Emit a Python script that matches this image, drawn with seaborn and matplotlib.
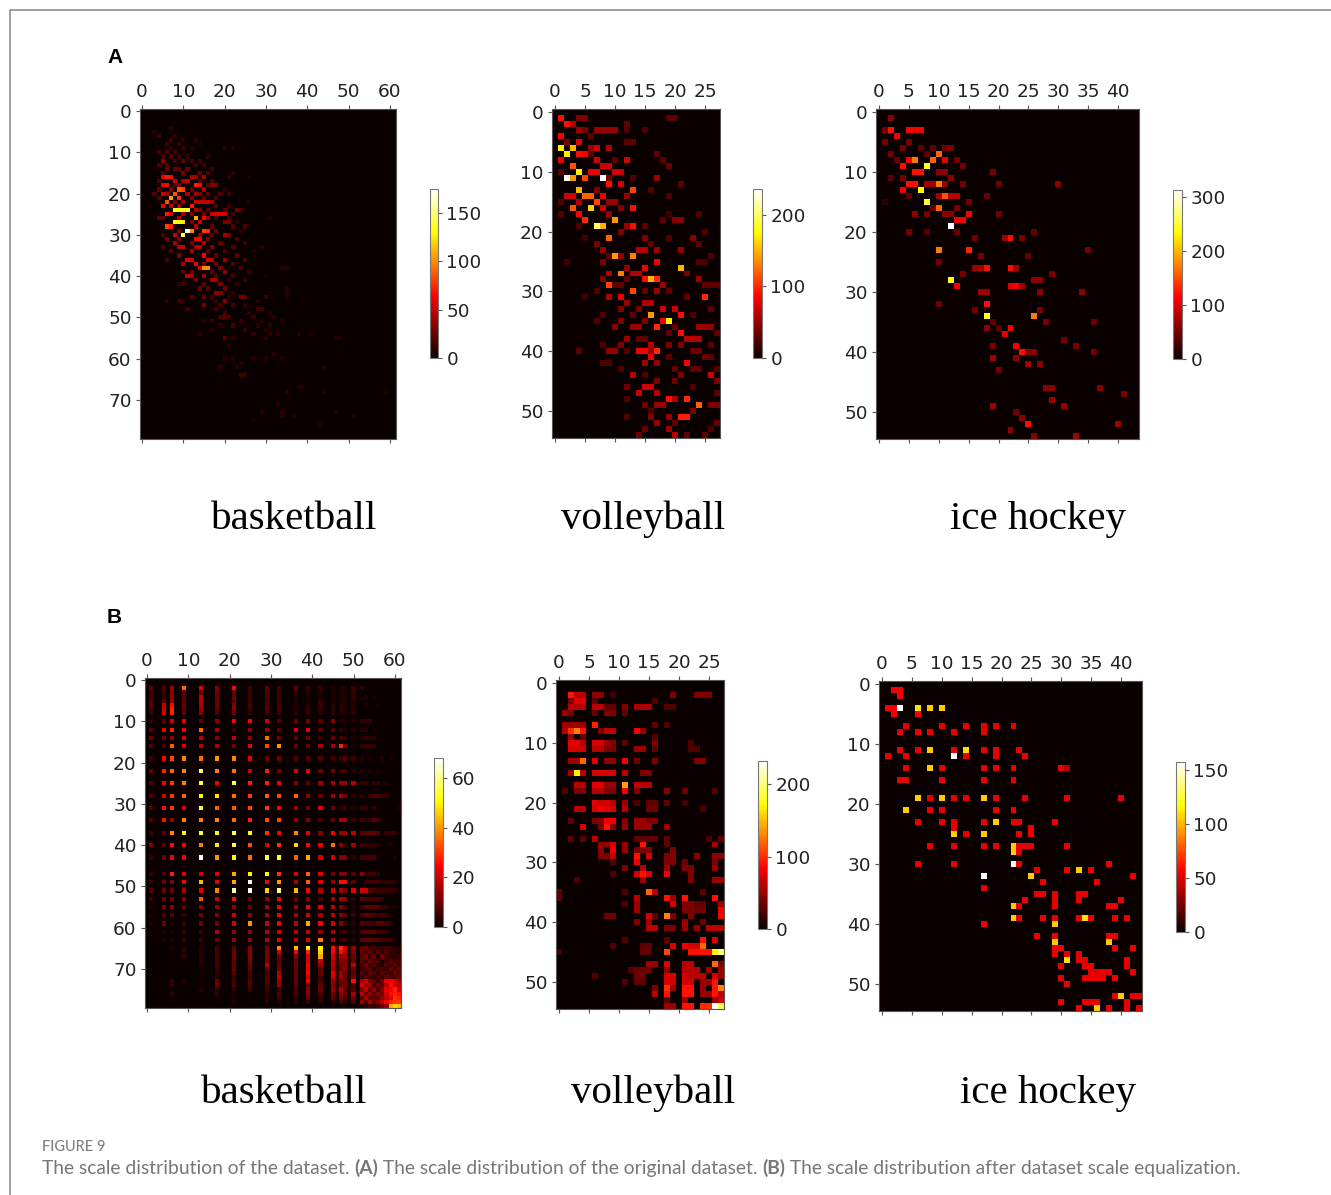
# %%
# scale distribution heatmaps (figure 9)
# --------------------------------
import numpy as np
import matplotlib
matplotlib.use("Agg")
import matplotlib.pyplot as plt
import seaborn as sns

# each line: row, then col,value pairs
bb_a_cells = [
    [4, 7,10], [5, 3,6], [6, 4,14, 8,12], [7, 7,18, 10,10, 13,9], [8, 6,14, 9,14, 14,6],
    [9, 7,14, 10,12, 12,8, 20,8, 22,8], [10, 4,14, 6,18, 8,16],
    [11, 5,18, 7,18, 9,14, 11,12, 16,10], [12, 5,36, 8,18, 10,22, 12,14, 14,16],
    [13, 4,18, 6,22, 13,16, 15,16], [14, 6,26, 8,26, 9,22, 11,26, 17,14],
    [15, 5,18, 10,30, 14,26, 16,18, 22,10], [16, 5,60, 6,70, 7,65, 12,42, 13,38, 15,42, 21,10, 26,7],
    [17, 4,18, 8,50, 10,42, 11,50, 14,22, 17,18],
    [18, 5,60, 6,65, 8,22, 9,30, 13,70, 14,65, 16,18, 17,32, 18,32],
    [19, 4,22, 7,30, 9,85, 10,80, 12,22, 15,42, 20,10],
    [20, 3,18, 5,50, 6,42, 8,85, 11,42, 13,42, 14,32, 16,22, 19,18, 21,14],
    [21, 4,18, 7,105, 9,75, 12,30, 15,22, 18,18],
    [22, 6,85, 8,30, 10,42, 13,48, 14,48, 15,48, 16,48, 17,40, 26,8],
    [23, 5,60, 7,50, 9,42, 12,70, 18,18, 21,14],
    [24, 8,135, 9,135, 10,135, 11,135, 13,42, 14,26, 16,22, 20,22, 23,26, 24,18],
    [25, 6,70, 7,50, 10,42, 12,30, 15,26, 17,50, 18,55, 19,55, 20,50, 22,14],
    [26, 4,22, 5,22, 9,42, 13,110, 15,62, 16,36, 18,18, 21,18, 31,7],
    [27, 8,130, 9,130, 10,125, 12,26, 14,50, 20,30, 21,26, 23,10],
    [28, 6,80, 7,70, 13,45, 17,22, 22,18, 25,18],
    [29, 9,30, 11,175, 12,100, 15,80, 16,75, 18,26, 24,10],
    [30, 5,18, 8,50, 10,145, 14,36, 17,22, 20,42, 21,30],
    [31, 6,30, 9,30, 13,62, 14,62, 16,30, 23,18], [32, 8,42, 12,30, 15,42, 19,22, 25,14],
    [33, 5,18, 9,46, 10,50, 13,42, 14,46, 17,30, 22,18, 29,8], [34, 7,22, 12,42, 16,22, 20,18, 27,8],
    [35, 9,30, 15,62, 18,22, 23,22], [36, 6,18, 11,58, 12,52, 16,52, 17,46, 20,36, 25,18],
    [37, 10,42, 13,62, 15,30, 18,26, 22,18], [38, 14,55, 15,100, 16,100, 19,30, 24,18, 34,9, 35,9],
    [39, 10,20, 12,26, 17,22, 20,36, 26,12], [40, 11,48, 12,42, 15,40, 18,20, 22,16, 30,6],
    [41, 13,30, 17,40, 18,40, 21,12, 25,12], [42, 9,12, 10,16, 15,20, 19,26, 23,12],
    [43, 14,24, 16,20, 20,26, 35,9], [44, 18,34, 19,30, 22,12, 35,7],
    [45, 12,20, 15,24, 17,16, 21,12, 24,28, 25,24, 30,12, 35,7], [46, 6,8, 9,16, 10,12, 18,12, 20,34, 28,7],
    [47, 15,30, 19,16, 22,16, 25,12], [48, 11,16, 18,16, 28,16, 29,16], [49, 20,16, 26,12, 31,9],
    [50, 19,16, 20,20, 21,16, 27,12, 32,9], [51, 15,9, 17,12, 24,12, 29,9, 34,7],
    [52, 19,9, 22,16, 28,9, 31,9], [53, 17,7, 25,11, 30,7],
    [54, 14,9, 27,11, 31,9, 33,9, 38,7, 41,6], [55, 20,20, 22,9, 30,9, 47,6, 48,6],
    [57, 21,9], [59, 32,9], [60, 20,9, 22,7, 27,7, 30,7, 34,6], [61, 24,7],
    [62, 19,9, 23,6, 44,9], [64, 24,14, 25,12], [67, 38,7, 39,7], [68, 35,9, 44,5, 59,5],
    [71, 33,7], [73, 29,9, 34,9, 47,6], [74, 34,7, 37,6, 51,6], [75, 27,5], [76, 43,6],
]

vb_a_cells = [
    [1, 1,90, 4,40, 5,40, 19,30, 20,30], [2, 2,90, 3,60, 12,30], [3, 4,50, 5,40, 7,50, 8,50, 9,50, 10,50, 12,25, 15,25],
    [4, 1,85, 6,30], [5, 2,40, 4,75, 12,30, 13,30], [6, 1,170, 3,150, 6,50, 7,70, 9,60],
    [7, 2,170, 4,90, 5,85, 6,30, 17,30], [8, 1,80, 7,70, 10,30, 12,70, 18,30], [9, 3,115, 8,70, 9,70, 19,35],
    [10, 1,30, 4,170, 6,80, 7,80, 10,70, 11,70], [11, 2,235, 3,140, 5,110, 8,235, 9,40, 13,25, 17,50],
    [12, 9,90, 11,70, 21,30], [13, 4,150, 7,40, 13,110, 16,25], [14, 2,70, 3,70, 5,120, 6,120, 8,80, 12,50, 19,25],
    [15, 1,25, 4,60, 7,110, 9,50, 10,50], [16, 3,115, 6,160, 8,70, 11,40, 13,90],
    [17, 1,25, 4,85, 9,50, 19,20, 24,25], [18, 5,100, 10,140, 18,30, 20,45, 21,45],
    [19, 4,25, 7,200, 8,150, 12,50, 13,90, 15,30], [20, 11,40, 25,25], [21, 5,20, 9,120, 15,40, 19,25, 23,45],
    [22, 7,40, 16,30, 24,30], [23, 8,50, 14,60, 15,60, 17,50, 21,50], [24, 9,30, 10,140, 11,50, 13,130, 26,25],
    [25, 2,20, 8,40, 17,80, 24,25, 25,25], [26, 12,50, 15,80, 21,150], [27, 9,60, 11,130, 13,60, 14,60, 22,40],
    [28, 8,40, 12,30, 15,90, 16,150, 17,100, 24,50], [29, 9,110, 10,30, 11,30, 18,50, 25,30, 26,30, 27,30],
    [30, 7,25, 13,110, 15,30, 17,50, 19,30], [31, 5,20, 9,60, 11,80, 22,30, 25,100], [32, 12,50, 15,60, 16,60],
    [33, 11,40, 14,40, 18,70, 20,70, 26,30], [34, 8,25, 13,30, 16,140, 21,90, 23,25], [35, 7,25, 11,40, 15,40, 18,80, 19,170],
    [36, 10,45, 13,50, 14,50, 17,100, 20,30, 24,50, 25,50, 26,50], [37, 19,30, 21,90, 27,30],
    [38, 12,50, 14,30, 15,30, 22,60, 23,60, 24,60], [39, 8,25, 11,40, 16,60, 19,40, 21,40, 26,30],
    [40, 4,30, 9,50, 10,50, 12,25, 14,80, 15,80, 16,50, 17,100, 23,35, 24,35], [41, 16,80, 19,30, 25,30, 26,30],
    [42, 8,25, 9,25, 15,50, 17,50, 22,85], [43, 11,25, 20,30, 23,30, 24,30, 27,25], [44, 13,60, 15,25, 21,40, 26,70],
    [45, 17,40, 20,35, 27,40], [46, 12,35, 15,70, 16,70, 23,25], [47, 14,70, 17,60, 27,30], [48, 12,25, 19,90, 20,60, 22,100],
    [49, 15,35, 17,50, 18,50, 24,120, 26,40, 27,40], [50, 16,25, 23,40], [51, 12,25, 16,40, 19,50, 21,95, 22,95],
    [52, 17,50, 20,30, 27,35], [53, 15,35, 19,50, 26,25], [54, 14,35, 20,60, 22,30, 25,30],
]

ih_a_cells = [
    [1, 2,60], [3, 1,50, 2,120, 5,110, 6,110, 7,110], [4, 3,110], [5, 1,50, 5,50], [6, 4,50, 7,40, 9,40, 11,50, 12,50],
    [7, 2,50, 8,40, 10,160], [8, 3,40, 5,110, 6,170, 9,160, 11,100, 13,50], [9, 4,120, 8,240, 14,50],
    [10, 6,120, 7,120, 10,60, 11,60, 19,50], [11, 2,40, 4,50, 12,60],
    [12, 5,120, 6,120, 8,70, 9,70, 10,170, 11,60, 14,50, 20,50, 30,60], [13, 4,110, 7,230],
    [14, 5,40, 10,70, 11,150, 12,80, 13,80, 18,45], [15, 1,15, 8,250, 15,50], [16, 9,40, 10,160, 13,50],
    [17, 6,60, 8,50, 11,60, 12,60, 15,110, 20,50], [18, 13,110, 14,110], [19, 12,312],
    [20, 5,50, 8,35, 13,45, 26,45], [21, 16,50, 21,70, 22,120, 24,50], [23, 10,170, 15,130, 35,50],
    [24, 17,50, 25,45], [25, 10,50], [26, 16,70, 17,70, 18,120, 22,120, 23,70], [27, 14,50, 29,50],
    [28, 12,240, 26,60, 27,60], [29, 13,110, 22,100, 23,110, 24,70], [30, 17,70, 18,70, 27,60, 34,60],
    [32, 10,50, 18,120], [33, 16,50, 27,50], [34, 18,240, 26,170], [35, 19,40, 28,50, 36,45],
    [36, 18,60, 20,40, 22,110], [37, 21,100], [38, 31,50], [39, 19,50, 23,110, 33,50],
    [40, 24,120, 25,60, 26,60, 36,50], [41, 19,70, 23,60], [42, 25,70, 27,60], [43, 20,50],
    [46, 28,60, 29,60, 37,60], [47, 41,50], [48, 29,70], [49, 19,70, 31,70], [50, 23,50], [51, 24,60],
    [52, 25,120, 40,70], [53, 22,60], [54, 26,60, 33,70],
]

# basketball B is a regular grid, kept as a table
bb_b_rows = [2, 3, 4, 5, 6, 7, 8, 10, 12, 14, 16, 19, 22, 25, 28, 31, 34, 37, 40, 43, 47, 49, 51, 53, 55, 57, 59, 61, 63]
bb_b_cols = [1, 4, 6, 9, 13, 17, 21, 25, 29, 32, 36, 39, 42, 45, 47, 48, 50]
bb_b_grid = [
    [8, 8, 15, 35, 22, 12, 25, 6, 8, 6, 10, 5, 4, 2, 2, 2, 5],
    [6, 4, 12, 7, 10, 10, 8, 4, 7, 5, 4, 3, 2, 2, 2, 2, 4],
    [6, 5, 14, 8, 18, 10, 10, 5, 6, 6, 2, 2, 2, 2, 2, 2, 4],
    [7, 9, 14, 9, 17, 9, 9, 5, 6, 5, 2, 2, 4, 2, 2, 2, 3],
    [8, 18, 25, 10, 16, 10, 12, 6, 8, 6, 3, 3, 5, 3, 3, 2, 3],
    [6, 20, 28, 8, 14, 8, 12, 5, 8, 6, 3, 4, 4, 3, 3, 2, 3],
    [5, 20, 28, 8, 12, 8, 10, 4, 6, 5, 3, 5, 3, 4, 2, 2, 5],
    [5, 8, 20, 22, 8, 14, 24, 24, 20, 8, 10, 10, 8, 12, 3, 2, 3],
    [8, 22, 28, 24, 36, 16, 6, 14, 14, 8, 22, 22, 8, 8, 4, 2, 3],
    [10, 10, 14, 20, 18, 12, 18, 14, 36, 10, 8, 10, 5, 10, 6, 4, 2],
    [7, 6, 34, 22, 18, 16, 10, 22, 32, 40, 10, 10, 16, 16, 28, 10, 2],
    [6, 25, 32, 38, 36, 40, 38, 22, 10, 10, 8, 8, 7, 6, 4, 8, 6],
    [9, 28, 35, 38, 58, 38, 36, 20, 28, 10, 20, 22, 10, 10, 5, 5, 3],
    [7, 24, 30, 38, 56, 24, 56, 28, 28, 24, 12, 8, 16, 16, 14, 14, 18],
    [8, 20, 30, 34, 50, 48, 36, 30, 34, 32, 34, 14, 10, 16, 16, 10, 3],
    [8, 26, 30, 22, 56, 34, 34, 32, 30, 24, 14, 10, 22, 10, 4, 4, 3],
    [8, 26, 14, 38, 38, 38, 36, 28, 32, 32, 14, 12, 6, 10, 16, 16, 5],
    [4, 8, 38, 50, 54, 52, 54, 50, 30, 24, 38, 22, 12, 24, 14, 14, 18],
    [12, 8, 26, 24, 38, 48, 56, 32, 22, 30, 46, 24, 22, 36, 12, 4, 16],
    [4, 10, 24, 24, 68, 40, 50, 36, 55, 55, 34, 42, 20, 20, 12, 12, 4],
    [4, 6, 28, 22, 20, 22, 42, 50, 50, 30, 20, 34, 22, 10, 12, 12, 8],
    [5, 10, 12, 24, 44, 22, 42, 68, 24, 40, 16, 34, 22, 14, 26, 26, 8],
    [8, 10, 10, 16, 22, 38, 62, 66, 46, 60, 44, 24, 16, 20, 16, 10, 22],
    [6, 10, 10, 14, 34, 20, 26, 10, 14, 24, 10, 12, 6, 16, 16, 14, 4],
    [2, 12, 14, 10, 12, 14, 14, 10, 16, 24, 16, 24, 22, 18, 12, 6, 3],
    [2, 8, 8, 5, 10, 12, 20, 14, 16, 24, 16, 20, 16, 18, 12, 10, 6],
    [2, 10, 2, 5, 10, 10, 20, 40, 20, 24, 18, 42, 24, 20, 12, 4, 3],
    [1, 2, 2, 5, 5, 18, 14, 14, 18, 20, 18, 18, 14, 16, 4, 6, 3],
    [1, 2, 2, 5, 5, 10, 14, 14, 18, 22, 18, 22, 38, 16, 4, 6, 3],
]

# vertical streaks near the bottom
bb_b_streak_rows = list(range(65, 79))
bb_b_streak_cols = [6, 9, 13, 17, 21, 25, 29, 32, 36, 39, 42, 45, 46, 47, 48, 49, 50]
bb_b_streak = [
    [2, 3, 3, 6, 9, 13, 11, 38, 44, 50, 50, 26, 8, 30, 20, 2, 14],
    [1, 3, 3, 6, 10, 13, 11, 20, 24, 28, 46, 24, 6, 26, 16, 2, 12],
    [1, 4, 3, 6, 10, 13, 11, 10, 12, 20, 42, 20, 5, 14, 16, 3, 10],
    [0, 1, 3, 6, 9, 11, 11, 8, 10, 20, 18, 18, 4, 12, 12, 3, 9],
    [0, 0, 2, 6, 9, 9, 18, 9, 10, 24, 14, 18, 5, 10, 12, 3, 18],
    [0, 0, 1, 4, 9, 9, 9, 10, 9, 22, 8, 16, 3, 9, 14, 3, 9],
    [0, 0, 1, 3, 7, 6, 6, 16, 9, 24, 9, 22, 4, 14, 8, 2, 9],
    [0, 0, 1, 3, 4, 6, 7, 18, 9, 20, 6, 20, 5, 16, 9, 3, 10],
    [5, 3, 1, 10, 6, 7, 7, 14, 9, 24, 6, 14, 4, 10, 9, 2, 26],
    [4, 1, 1, 10, 7, 7, 6, 14, 9, 9, 9, 12, 3, 9, 10, 3, 6],
    [1, 0, 3, 4, 2, 4, 4, 4, 6, 14, 10, 14, 4, 16, 8, 3, 7],
    [4, 0, 1, 4, 2, 1, 3, 7, 7, 12, 7, 10, 3, 12, 9, 2, 16],
    [1, 0, 0, 1, 2, 1, 3, 6, 4, 10, 4, 9, 2, 10, 6, 2, 10],
    [0, 0, 0, 0, 2, 1, 3, 2, 2, 4, 3, 4, 1, 6, 4, 1, 7],
]

# dense corner, lower right
bb_b_corner_rows = list(range(65, 80))
bb_b_corner_cols = list(range(52, 62))
bb_b_corner = [
    [8, 9, 6, 7, 4, 5, 6, 5, 3, 2],
    [10, 6, 9, 4, 8, 3, 7, 3, 5, 2],
    [7, 11, 5, 9, 3, 10, 6, 4, 3, 5],
    [9, 4, 10, 6, 7, 3, 5, 8, 4, 6],
    [6, 10, 5, 8, 4, 2, 7, 6, 8, 5],
    [5, 7, 8, 3, 6, 7, 4, 9, 7, 9],
    [8, 4, 9, 7, 3, 8, 7, 5, 10, 6],
    [4, 7, 5, 4, 6, 5, 9, 7, 6, 9],
    [16, 20, 12, 8, 5, 10, 22, 24, 20, 14],
    [22, 14, 16, 6, 10, 8, 18, 26, 20, 18],
    [12, 18, 9, 14, 6, 12, 22, 24, 28, 20],
    [18, 10, 14, 7, 12, 10, 20, 26, 28, 26],
    [8, 16, 9, 10, 8, 14, 18, 22, 30, 28],
    [14, 7, 16, 8, 12, 18, 24, 28, 30, 30],
    [2, 3, 6, 4, 6, 10, 14, 42, 46, 44],
]

# faint part on the right, rows 2..63
bb_b_side_cells = [
    [2, 52,4], [4, 53,3, 55,2], [6, 53,2, 56,2], [10, 52,4, 53,5, 54,4], [12, 52,3, 53,3, 55,2], [14, 52,3, 53,4, 54,3, 55,3],
    [16, 52,4, 53,5, 54,5, 55,4], [19, 52,3, 54,2, 57,3, 59,2], [22, 52,3, 54,2, 56,2], [25, 52,5, 53,4, 55,4, 56,4, 58,2],
    [28, 52,4, 54,4, 55,6, 56,6, 57,5, 58,5], [31, 52,4, 53,5, 55,4, 61,2], [34, 52,6, 53,4, 54,5, 55,8, 56,7],
    [37, 52,7, 53,9, 54,9, 55,9, 56,7, 58,5, 59,5, 60,5], [40, 52,5, 53,5, 54,4, 55,4, 56,3, 59,2], [43, 52,6, 53,6, 54,6, 55,6, 56,2, 60,2],
    [47, 52,12, 53,5, 54,6, 55,6, 56,4], [49, 53,4, 54,6, 55,6, 56,6, 57,4, 58,4, 59,4, 60,3],
    [51, 52,20, 53,20, 54,8, 55,6, 56,5, 57,5, 58,5, 59,5, 60,4], [53, 52,8, 53,6, 54,6, 55,6, 56,6, 57,4],
    [55, 52,5, 53,8, 54,8, 55,8, 56,8, 57,4, 58,4, 60,2], [57, 52,6, 53,9, 54,8, 55,6, 56,5, 57,6, 58,4],
    [59, 52,8, 53,6, 54,6, 55,5, 56,8, 57,8, 58,6, 59,3], [61, 52,6, 53,9, 54,8, 55,8, 56,5, 57,5, 58,4],
    [63, 52,8, 53,9, 54,9, 55,8, 56,8, 57,6, 58,5, 59,5, 60,2],
]

vb_b_cells = [
    [2, 2,90, 3,60, 4,60, 6,45, 7,45, 9,20, 19,40, 23,40, 24,40, 25,40], [3, 2,40, 3,75, 4,75, 6,30, 16,25],
    [4, 2,60, 3,60, 4,60, 6,60, 7,60, 8,30, 9,30, 11,40, 13,55, 14,55, 15,55, 18,25, 19,25],
    [5, 1,50, 2,40, 6,30, 8,40, 9,40, 11,30], [7, 1,50, 2,50, 3,50, 4,50, 6,95, 16,30, 18,25],
    [8, 1,60, 2,100, 3,130, 4,90, 7,40, 8,60, 9,60, 13,80, 14,50], [9, 2,50, 4,30, 16,25],
    [10, 2,75, 3,75, 4,60, 6,70, 7,70, 8,50, 9,40, 11,30, 16,40, 22,25],
    [11, 2,70, 3,70, 4,70, 6,60, 7,60, 8,40, 9,40, 13,50, 14,50, 16,30, 22,25, 23,25],
    [13, 2,50, 3,50, 4,120, 6,75, 8,45, 9,45, 11,80, 13,35, 16,40, 23,40, 24,40],
    [15, 2,50, 3,170, 4,60, 6,70, 7,70, 8,70, 9,70, 11,60, 14,40, 15,40],
    [17, 3,60, 4,60, 6,75, 7,75, 8,50, 9,50, 11,140, 13,60, 14,60, 15,60],
    [18, 1,25, 3,40, 4,40, 6,60, 7,60, 8,40, 9,40, 11,80, 13,40, 18,45, 21,35, 26,25],
    [20, 6,75, 7,65, 8,70, 9,60, 11,50, 13,25, 15,30, 16,30, 18,30, 21,20],
    [21, 3,60, 4,60, 6,70, 7,80, 8,75, 9,70, 11,60, 15,35, 16,35, 24,25],
    [23, 2,30, 6,40, 7,40, 8,80, 9,80, 11,40, 13,50, 14,50, 15,40, 16,40],
    [24, 4,70, 7,40, 8,90, 9,40, 11,50, 13,50, 14,50, 15,50, 18,50],
    [26, 2,30, 4,30, 6,60, 13,30, 14,30, 15,30, 16,30, 18,30, 25,25, 27,30],
    [27, 7,50, 8,50, 9,70, 11,50, 14,90, 18,30, 26,55], [28, 7,45, 9,80, 11,50, 13,40, 14,40, 15,45, 19,40],
    [29, 7,40, 8,40, 9,60, 13,90, 15,70, 18,40, 19,40, 23,45, 26,45, 27,45], [30, 9,25, 13,80, 18,40, 19,40, 21,35, 26,40],
    [31, 11,40, 14,60, 18,50, 21,40, 22,40, 26,50], [32, 9,25, 13,70, 14,90, 15,70, 18,80, 22,40], [33, 3,25, 14,50, 22,40, 26,50, 27,50],
    [35, 0,30, 11,25, 15,120, 16,60, 24,30], [36, 0,30, 13,60, 18,90, 19,50, 21,90, 26,90],
    [37, 11,25, 13,50, 19,70, 21,40, 22,40, 23,30, 24,30, 27,50], [38, 13,50, 21,40, 22,40, 23,35, 24,35, 27,80],
    [39, 8,35, 9,35, 15,70, 16,30, 18,130, 19,40, 22,40, 27,85], [40, 13,40, 15,50, 21,50, 24,35],
    [41, 15,60, 16,60, 18,40, 19,40, 21,50, 23,50, 25,60, 26,60, 27,60], [43, 11,25, 18,30, 24,90, 26,70],
    [44, 9,25, 14,30, 15,30, 19,70, 21,80, 22,70, 23,70, 24,120], [45, 0,20, 14,30, 15,30, 18,110, 22,90, 23,90, 24,90, 25,90, 26,170, 27,200],
    [47, 15,50, 16,50, 18,70, 21,60, 22,60, 26,120, 27,40], [48, 12,25, 13,35, 14,35, 15,35, 18,50, 21,60, 22,60, 23,60, 25,50, 27,50],
    [49, 6,25, 13,35, 14,35, 18,70, 19,70, 21,70, 22,60, 23,60, 24,60, 26,70, 27,50],
    [50, 11,25, 13,30, 14,30, 18,70, 19,70, 21,70, 22,70, 24,50, 25,50, 26,90],
    [51, 16,40, 18,100, 19,50, 21,90, 22,90, 24,50, 26,90, 27,130], [52, 16,60, 18,90, 21,90, 22,90, 24,50, 25,50, 26,90, 27,60],
    [53, 18,30, 21,50, 26,50, 27,70], [54, 18,50, 19,50, 21,90, 22,90, 24,100, 25,100, 26,232, 27,190],
]

# hockey B only has a few levels
ih_b_cells = [
    [1, 2,55, 3,55], [2, 3,55], [4, 1,55, 2,55, 3,157, 6,110, 8,105, 10,105], [5, 2,55, 6,55],
    [7, 4,52, 10,52, 14,52, 17,52, 19,52, 22,52], [8, 3,52, 6,52, 8,52, 12,52, 17,52],
    [11, 3,52, 6,52, 8,105, 12,52, 14,110, 17,52, 19,52, 23,52], [12, 1,52, 4,52, 12,157, 14,52, 19,52, 24,52],
    [14, 4,52, 8,105, 10,52, 17,52, 19,52, 22,52, 30,52, 31,40], [16, 3,52, 4,52, 10,52, 17,52, 22,52],
    [19, 6,105, 8,52, 10,105, 12,52, 14,52, 17,105, 19,52, 24,52, 31,52, 40,52], [21, 4,105, 8,52, 10,52, 19,52, 22,52],
    [23, 6,52, 10,52, 12,52, 17,52, 19,105, 22,52, 23,52, 29,52], [24, 12,52, 25,52], [25, 12,105, 14,52, 17,105, 23,52, 25,52],
    [27, 8,52, 12,52, 17,52, 19,52, 22,105, 23,52, 24,52, 25,52, 31,52], [28, 22,105, 23,52],
    [30, 6,52, 12,52, 22,157, 23,52, 38,52], [31, 26,52, 31,52, 33,105, 35,52], [32, 17,157, 25,105, 42,52], [33, 27,52, 36,52], [34, 17,52],
    [35, 26,52, 27,52, 29,52, 33,52, 34,52], [36, 24,52, 29,52, 33,52, 40,52], [37, 22,105, 23,52, 29,52, 38,52, 39,52],
    [39, 22,105, 23,52, 27,52, 29,52, 33,52, 34,110, 35,52, 39,52, 41,52], [40, 17,52, 29,105], [42, 26,52, 29,52, 38,52, 39,52],
    [43, 29,105, 38,105], [44, 29,52, 30,52, 39,52, 42,52], [45, 29,52, 31,52, 33,52], [46, 31,110, 33,52, 34,52, 41,52],
    [47, 30,52, 34,52, 35,52, 41,52], [48, 35,52, 36,52, 37,52, 38,52, 42,52], [49, 30,52, 34,52, 35,52, 36,52, 37,52, 39,52],
    [50, 31,52], [52, 39,52, 40,105, 42,52, 43,52], [53, 30,52, 34,52, 35,52, 36,52, 41,52], [54, 33,52, 36,105, 38,52, 41,52, 43,52],
]

bb_ticks_x = [0, 10, 20, 30, 40, 50, 60]
bb_ticks_y = [0, 10, 20, 30, 40, 50, 60, 70]
vb_ticks_x = [0, 5, 10, 15, 20, 25]
ih_ticks_x = [0, 5, 10, 15, 20, 25, 30, 35, 40]
small_ticks_y = [0, 10, 20, 30, 40, 50]

sport_names = ["basketball", "volleyball", "ice hockey"]
caption_parts = [
    ("The scale distribution of the dataset. ", "normal"),
    ("(A)", "bold"),
    (" The scale distribution of the original dataset. ", "normal"),
    ("(B)", "bold"),
    (" The scale distribution after dataset scale equalization.", "normal"),
]


def fill(shape, lines):
    mat = np.zeros(shape)
    for line in lines:
        mat[line[0], line[1::2]] = line[2::2]
    return mat


def put_table(mat, rows, cols, table):
    mat[np.ix_(rows, cols)] = np.array(table)


bb_b = fill((80, 62), bb_b_side_cells)
put_table(bb_b, bb_b_rows, bb_b_cols, bb_b_grid)
put_table(bb_b, bb_b_streak_rows, bb_b_streak_cols, bb_b_streak)
put_table(bb_b, bb_b_corner_rows, bb_b_corner_cols, bb_b_corner)

W, H = 1331, 1195
sns.set_theme(style="white")
plt.rcParams["font.family"] = "DejaVu Sans"
fig = plt.figure(figsize=(W / 100, H / 100), dpi=100, facecolor="white")


def px_axes(x0, y0, x1, y1):
    return fig.add_axes([x0 / W, 1 - y1 / H, (x1 - x0) / W, (y1 - y0) / H])


def panel(mat, box, cbox, vmax, xt, yt, ct):
    ax = px_axes(*box)
    cax = px_axes(*cbox)
    sns.heatmap(mat, ax=ax, cbar_ax=cax, cmap="hot", vmin=0, vmax=vmax, xticklabels=False, yticklabels=False)
    ax.set_xticks(np.array(xt) + 0.5, labels=xt)
    ax.set_yticks(np.array(yt) + 0.5, labels=yt, rotation=0)
    ax.tick_params(axis="x", top=True, bottom=True, labeltop=True, labelbottom=False, length=3, width=0.8,
                   color="#555555", labelsize=13.3, labelcolor="#222222", pad=3)
    ax.tick_params(axis="y", left=True, length=3, width=0.8, color="#555555", labelsize=13.3,
                   labelcolor="#222222", pad=3)
    for s in ax.spines.values():
        s.set_visible(True)
        s.set_color("#555555")
        s.set_linewidth(0.8)
    cb = ax.collections[0].colorbar
    cb.set_ticks(ct)
    cb.outline.set_visible(True)
    cb.outline.set_edgecolor("#777777")
    cb.outline.set_linewidth(0.8)
    cax.tick_params(right=True, length=3, width=0.8, color="#555555", labelsize=13.3, labelcolor="#222222", pad=3)


# row A
panel(fill((80, 62), bb_a_cells), (140, 109, 396, 439), (430, 189, 438, 358), 175, bb_ticks_x, bb_ticks_y, [0, 50, 100, 150])
panel(fill((55, 28), vb_a_cells), (552, 109, 720, 438), (753, 189, 762, 358), 236, vb_ticks_x, small_ticks_y, [0, 100, 200])
panel(fill((55, 44), ih_a_cells), (876, 109, 1139, 439), (1173, 190, 1182, 359), 312, ih_ticks_x, small_ticks_y, [0, 100, 200, 300])
# row B
panel(bb_b, (145, 678, 401, 1008), (434, 758, 443, 927), 68, bb_ticks_x, bb_ticks_y, [0, 20, 40, 60])
panel(fill((55, 28), vb_b_cells), (556, 680, 724, 1009), (758, 761, 767, 929), 232, vb_ticks_x, small_ticks_y, [0, 100, 200])
panel(fill((55, 44), ih_b_cells), (879, 681, 1142, 1011), (1176, 762, 1185, 932), 157, ih_ticks_x, small_ticks_y, [0, 50, 100, 150])

# names under the panels
for name, cx, cy in zip(sport_names * 2, [294, 643, 1038, 284, 653, 1048], [529, 529, 529, 1103, 1103, 1103]):
    fig.text(cx / W, 1 - cy / H, name, family="Liberation Serif", fontsize=29.5, color="black", ha="center", va="baseline")

# panel letters
fig.text(107 / W, 1 - 63 / H, "A", family="Liberation Sans", fontweight="bold", fontsize=15, color="black", va="baseline")
fig.text(107 / W, 1 - 623 / H, "B", family="Liberation Sans", fontweight="bold", fontsize=15, color="black", va="baseline")

# frame of the page, only top and left
fig.add_artist(plt.Line2D([9.5 / W, 9.5 / W, 1], [0, 1 - 9.5 / H, 1 - 9.5 / H], color="#858585", lw=1.1))

# caption, pieces share one baseline
fig.text(42 / W, 1 - 1151 / H, "FIGURE 9", family="Lato", fontweight="medium", fontsize=10.5, color="#808080", va="baseline")
x = 42
rend = fig.canvas.get_renderer()
for part, weight in caption_parts:
    t = fig.text(x / W, 1 - 1174 / H, part.replace(" ", "\u00a0"), family="Lato", fontweight=weight, fontsize=13.84, color="#777777", va="baseline")
    x = t.get_window_extent(rend).x1

fig.savefig("out.png", dpi=100)
